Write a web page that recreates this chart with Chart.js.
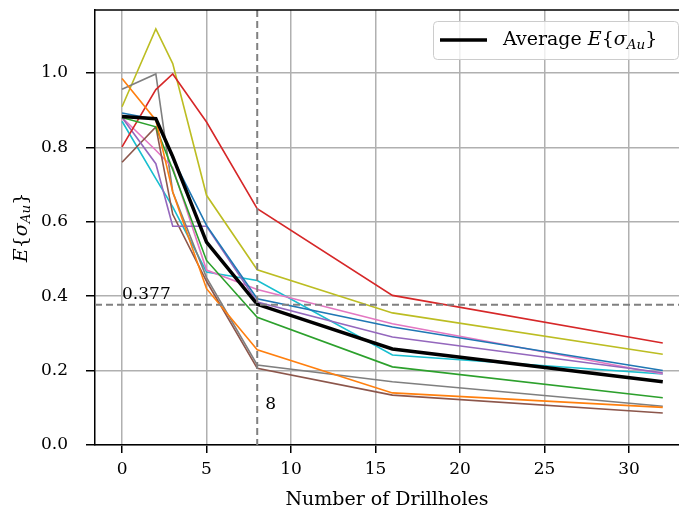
<!DOCTYPE html>
<html>
<head>
<meta charset="utf-8">
<script src="https://cdn.jsdelivr.net/npm/chart.js@4/dist/chart.umd.min.js"></script>
<style>
  html, body { margin: 0; padding: 0; background: #fff; }
  canvas { display: block; }
</style>
</head>
<body>
<canvas id="chart" width="679" height="511"></canvas>
<script>
(function () {
  "use strict";

  var drillholes = [0, 2, 3, 5, 8, 16, 32];
  var run0 = [0.892, 0.875, 0.77, 0.59, 0.393, 0.317, 0.200];
  var run1 = [0.985, 0.873, 0.68, 0.42, 0.256, 0.140, 0.101];
  var run2 = [0.880, 0.855, 0.74, 0.496, 0.343, 0.210, 0.127];
  var run3 = [0.801, 0.955, 0.997, 0.868, 0.635, 0.402, 0.274];
  var run4 = [0.880, 0.756, 0.588, 0.588, 0.384, 0.290, 0.194];
  var run5 = [0.760, 0.855, 0.62, 0.44, 0.206, 0.134, 0.086];
  var run6 = [0.880, 0.792, 0.745, 0.47, 0.418, 0.326, 0.191];
  var run7 = [0.956, 0.997, 0.68, 0.45, 0.215, 0.170, 0.104];
  var run8 = [0.909, 1.118, 1.025, 0.671, 0.471, 0.355, 0.244];
  var run9 = [0.870, 0.716, 0.64, 0.465, 0.442, 0.242, 0.191];
  var average = [0.883, 0.877, 0.775, 0.545, 0.378, 0.258, 0.170];

  var runs = [run0, run1, run2, run3, run4, run5, run6, run7, run8, run9];
  var runColors = ["#1f77b4", "#ff7f0e", "#2ca02c", "#d62728", "#9467bd",
                   "#8c564b", "#e377c2", "#7f7f7f", "#bcbd22", "#17becf"];

  var xTicks = [0, 5, 10, 15, 20, 25, 30];
  var yTicks = [0, 0.2, 0.4, 0.6, 0.8, 1.0];
  var threshold = 0.377;   // horizontal marker
  var chosenHoles = 8;     // vertical marker

  var SERIF = "'DejaVu Serif', serif";
  var tickFont = { family: SERIF, size: 17 };
  var labelFont = { family: SERIF, size: 19 };

  function points(ys) {
    var out = [];
    for (var i = 0; i < drillholes.length; i++) out.push({ x: drillholes[i], y: ys[i] });
    return out;
  }

  // draws E{σ_Au} with italic math letters and a subscript; returns width
  function mathParts(ctx, parts, x, y, measureOnly) {
    var cx = x;
    for (var i = 0; i < parts.length; i++) {
      var p = parts[i];
      var size = p.sub ? 13.5 : 19;
      ctx.font = (p.it ? "italic " : "") + size + "px " + SERIF;
      if (!measureOnly) ctx.fillText(p.t, cx, y + (p.sub ? 4 : 0));
      cx += ctx.measureText(p.t).width;
    }
    return cx - x;
  }
  var sigmaAu = [{ t: "E", it: true }, { t: "{" }, { t: "σ", it: true },
                 { t: "Au", it: true, sub: true }, { t: "}" }];

  var extras = {
    id: "extras",
    afterDatasetsDraw: function (chart) {
      var ctx = chart.ctx, a = chart.chartArea;
      var xs = chart.scales.x, ys = chart.scales.y;
      ctx.save();

      // reference lines
      ctx.beginPath();
      ctx.rect(a.left, a.top, a.right - a.left, a.bottom - a.top);
      ctx.clip();
      ctx.strokeStyle = "#808080";
      ctx.lineWidth = 2;
      ctx.setLineDash([7, 4]);
      var hy = ys.getPixelForValue(threshold);
      ctx.beginPath(); ctx.moveTo(a.left, hy); ctx.lineTo(a.right, hy); ctx.stroke();
      var vx = xs.getPixelForValue(chosenHoles);
      ctx.beginPath(); ctx.moveTo(vx, a.top); ctx.lineTo(vx, a.bottom); ctx.stroke();
      ctx.setLineDash([]);

      ctx.fillStyle = "#000";
      ctx.font = "17px " + SERIF;
      ctx.textBaseline = "alphabetic";
      ctx.fillText(String(threshold), xs.getPixelForValue(0), hy - 6);
      ctx.fillText(String(chosenHoles), vx + 8, ys.getPixelForValue(0.1) + 1);
      ctx.restore();

      ctx.save();
      // top spine
      ctx.strokeStyle = "#000";
      ctx.lineWidth = 1.5;
      ctx.beginPath(); ctx.moveTo(a.left - 0.75, a.top); ctx.lineTo(a.right, a.top); ctx.stroke();

      // legend
      var lx = 433, ly = a.top + 11, lw = a.right - 1 - lx, lh = 38;
      ctx.fillStyle = "rgba(255,255,255,0.8)";
      ctx.strokeStyle = "#cccccc";
      ctx.lineWidth = 1;
      ctx.beginPath();
      ctx.roundRect(lx + 0.5, ly + 0.5, lw, lh, 4);
      ctx.fill(); ctx.stroke();
      ctx.strokeStyle = "#000";
      ctx.lineWidth = 3.5;
      ctx.beginPath(); ctx.moveTo(lx + 7, ly + 19); ctx.lineTo(lx + 54, ly + 19); ctx.stroke();
      ctx.fillStyle = "#000";
      ctx.font = "19px " + SERIF;
      ctx.textBaseline = "alphabetic";
      ctx.fillText("Average ", lx + 70, ly + 24);
      var w0 = ctx.measureText("Average ").width;
      mathParts(ctx, sigmaAu, lx + 70 + w0, ly + 24, false);

      // y-axis title
      ctx.translate(22, (a.top + a.bottom) / 2);
      ctx.rotate(-Math.PI / 2);
      var tw = mathParts(ctx, sigmaAu, 0, 0, true);
      ctx.textBaseline = "middle";
      mathParts(ctx, sigmaAu, -tw / 2, 0, false);
      ctx.restore();
    }
  };

  var datasets = [{
    label: "Average E{σAu}",
    data: points(average),
    borderColor: "#000",
    borderWidth: 3.5,
    pointRadius: 0,
    tension: 0,
    order: 0
  }];
  for (var i = 0; i < runs.length; i++) {
    datasets.push({
      label: "run " + i,
      data: points(runs[i]),
      borderColor: runColors[i],
      borderWidth: 1.6,
      pointRadius: 0,
      tension: 0,
      order: 1
    });
  }

  new Chart(document.getElementById("chart"), {
    type: "line",
    data: { datasets: datasets },
    plugins: [extras],
    options: {
      responsive: false,
      animation: false,
      devicePixelRatio: 1,
      layout: { padding: { top: 10, left: 0, right: 0, bottom: 0 } },
      plugins: { legend: { display: false }, tooltip: { enabled: false } },
      scales: {
        x: {
          type: "linear",
          min: -1.6,
          max: 32.96,
          afterBuildTicks: function (s) { s.ticks = xTicks.map(function (v) { return { value: v }; }); },
          afterFit: function (s) { s.height = 66; s.paddingLeft = 0; s.paddingRight = 0; },
          grid: { color: "#b0b0b0", lineWidth: 1.5, tickColor: "#000", tickLength: 8, tickWidth: 1.5 },
          border: { color: "#000", width: 1.5 },
          ticks: { color: "#000", font: tickFont, padding: 6, maxRotation: 0,
                   callback: function (v) { return String(v); } },
          title: { display: true, text: "Number of Drillholes", color: "#000",
                   font: labelFont, padding: { top: 0, bottom: 0 } }
        },
        y: {
          min: 0,
          max: 1.169,
          afterBuildTicks: function (s) { s.ticks = yTicks.map(function (v) { return { value: v }; }); },
          afterFit: function (s) { s.width = 95; s.paddingTop = 0; s.paddingBottom = 0; },
          grid: { color: "#b0b0b0", lineWidth: 1.5, tickColor: "#000", tickLength: 9, tickWidth: 1.5 },
          border: { color: "#000", width: 1.5 },
          ticks: { color: "#000", font: tickFont, padding: 18,
                   callback: function (v) { return v.toFixed(1); } }
        }
      }
    }
  });
})();
</script>
</body>
</html>
